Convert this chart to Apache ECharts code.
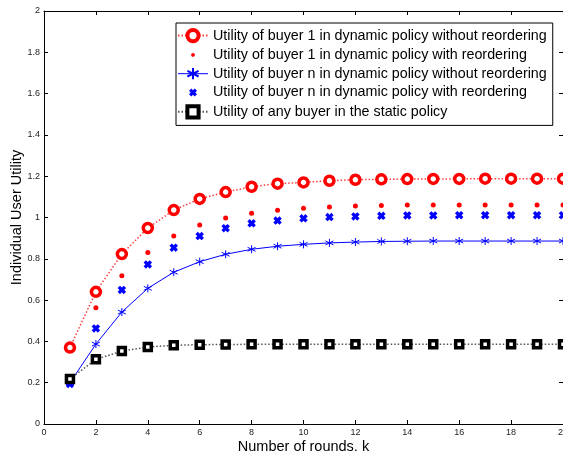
<!DOCTYPE html>
<html>
<head>
<meta charset="utf-8">
<script src="https://cdn.jsdelivr.net/npm/echarts@6/dist/echarts.min.js"></script>
<style>
  html, body { margin: 0; padding: 0; background: #fff; }
  #chart { width: 563px; height: 451px; }
</style>
</head>
<body>
<div id="chart"></div>
<script>
const rounds = [1,2,3,4,5,6,7,8,9,10,11,12,13,14,15,16,17,18,19,20];
const buyer1NoReorder = [0.37,0.64,0.823,0.949,1.036,1.09,1.123,1.149,1.164,1.170,1.178,1.183,1.185,1.186,1.187,1.187,1.188,1.188,1.188,1.188];
const buyer1Reorder = [0.37,0.563,0.718,0.831,0.91,0.964,0.998,1.02,1.035,1.045,1.051,1.056,1.058,1.06,1.06,1.061,1.061,1.061,1.061,1.061];
const buyerNNoReorder = [0.2,0.387,0.542,0.657,0.735,0.786,0.822,0.846,0.861,0.87,0.877,0.881,0.884,0.885,0.886,0.886,0.886,0.886,0.886,0.886];
const buyerNReorder = [0.194,0.463,0.649,0.773,0.854,0.91,0.948,0.972,0.985,0.996,1.002,1.005,1.008,1.01,1.01,1.011,1.011,1.011,1.011,1.011];
const staticPolicy = [0.218,0.313,0.353,0.373,0.381,0.384,0.385,0.386,0.386,0.386,0.386,0.386,0.386,0.386,0.386,0.386,0.386,0.386,0.386,0.386];

const names = [
  'Utility of buyer 1 in dynamic policy without reordering',
  'Utility of buyer 1 in dynamic policy with reordering',
  'Utility of buyer n in dynamic policy without reordering',
  'Utility of buyer n in dynamic policy with reordering',
  'Utility of any buyer in the static policy'
];

const pts = arr => arr.map((v, i) => [rounds[i], v]);

const font = 'Liberation Sans, Arial, Helvetica, sans-serif';
const starPath = 'path://M0,-10L0,10M-8.66,-5L8.66,5M-8.66,5L8.66,-5';
const crossPath = 'path://M-2.2,-5L0,-2.8L2.2,-5L5,-2.2L2.8,0L5,2.2L2.2,5L0,2.8L-2.2,5L-5,2.2L-2.8,0L-5,-2.2Z';
// legend icons: small marks inside a bigger invisible box
const dotIcon = 'path://M-7,-7M7,7M-2,0L-1.4,-1.4L0,-2L1.4,-1.4L2,0L1.4,1.4L0,2L-1.4,1.4Z';
const crossIcon = 'path://M-7,-7M7,7M-1.7,-4L0,-2.3L1.7,-4L4,-1.7L2.3,0L4,1.7L1.7,4L0,2.3L-1.7,4L-4,1.7L-2.3,0L-4,-1.7Z';

const axisBase = {
  type: 'value',
  axisLine: { show: true, onZero: false, lineStyle: { color: '#000', width: 1 } },
  axisTick: { show: true, inside: true, length: 4, lineStyle: { color: '#000' } },
  splitLine: { show: false },
  axisLabel: { color: '#222', fontSize: 9, fontFamily: font }
};

const chart = echarts.init(document.getElementById('chart'));
chart.setOption({
  animation: false,
  grid: { left: 44, right: 0, top: 11, bottom: 27, outerBoundsMode: 'none', containLabel: false },
  xAxis: [
    Object.assign({}, axisBase, {
      position: 'bottom', min: 0, max: 20, interval: 2,
      name: 'Number of rounds, k', nameLocation: 'middle', nameGap: 15, nameMoveOverlap: false,
      nameTextStyle: { fontSize: 14.5, fontFamily: font, color: '#000' },
      axisLabel: Object.assign({}, axisBase.axisLabel, { margin: 4 })
    }),
    Object.assign({}, axisBase, {
      position: 'top', min: 0, max: 20, interval: 2,
      axisLabel: { show: false }
    })
  ],
  yAxis: [
    Object.assign({}, axisBase, {
      position: 'left', min: 0, max: 2, interval: 0.2,
      name: 'Individual User Utility', nameLocation: 'middle', nameGap: 20, nameMoveOverlap: false,
      nameTextStyle: { fontSize: 14.5, fontFamily: font, color: '#000' },
      axisLabel: Object.assign({}, axisBase.axisLabel, { margin: 4 })
    }),
    Object.assign({}, axisBase, {
      position: 'right', min: 0, max: 2, interval: 0.2,
      axisLabel: { show: false }
    })
  ],
  legend: {
    orient: 'vertical',
    left: 176, top: 23,
    padding: [5, 6, 6, 1],
    itemWidth: 30, itemHeight: 14, itemGap: 4.75,
    align: 'left',
    backgroundColor: '#fff',
    borderColor: '#000', borderWidth: 1,
    textStyle: { fontSize: 14.3, lineHeight: 14, fontFamily: font, color: '#000' },
    data: [
      { name: names[0], itemStyle: { borderWidth: 4 } },
      { name: names[1], icon: dotIcon },
      { name: names[2], lineStyle: { width: 1 } },
      { name: names[3], icon: crossIcon },
      { name: names[4], itemStyle: { borderWidth: 4 } }
    ]
  },
  series: [
    {
      name: names[0], type: 'line', data: pts(buyer1NoReorder),
      symbol: 'circle', symbolSize: 9,
      itemStyle: { color: '#fff', borderColor: '#ff0000', borderWidth: 3.5 },
      lineStyle: { color: '#ff3b3b', width: 1.5, type: [1.5, 2] }
    },
    {
      name: names[1], type: 'scatter', data: pts(buyer1Reorder),
      symbol: 'circle', symbolSize: 5,
      itemStyle: { color: '#ff0000', opacity: 1 }
    },
    {
      name: names[2], type: 'line', data: pts(buyerNNoReorder),
      symbol: starPath, symbolSize: 8,
      itemStyle: { color: '#0000ff', borderColor: '#0000ff', borderWidth: 1 },
      lineStyle: { color: '#0000ff', width: 1 }
    },
    {
      name: names[3], type: 'scatter', data: pts(buyerNReorder),
      symbol: crossPath, symbolSize: 8.5,
      itemStyle: { color: '#0000ff', opacity: 1 }
    },
    {
      name: names[4], type: 'line', data: pts(staticPolicy),
      symbol: 'rect', symbolSize: 7,
      itemStyle: { color: '#fff', borderColor: '#000', borderWidth: 3.5 },
      lineStyle: { color: '#555', width: 1.5, type: [1.5, 2] }
    }
  ]
});
</script>
</body>
</html>
